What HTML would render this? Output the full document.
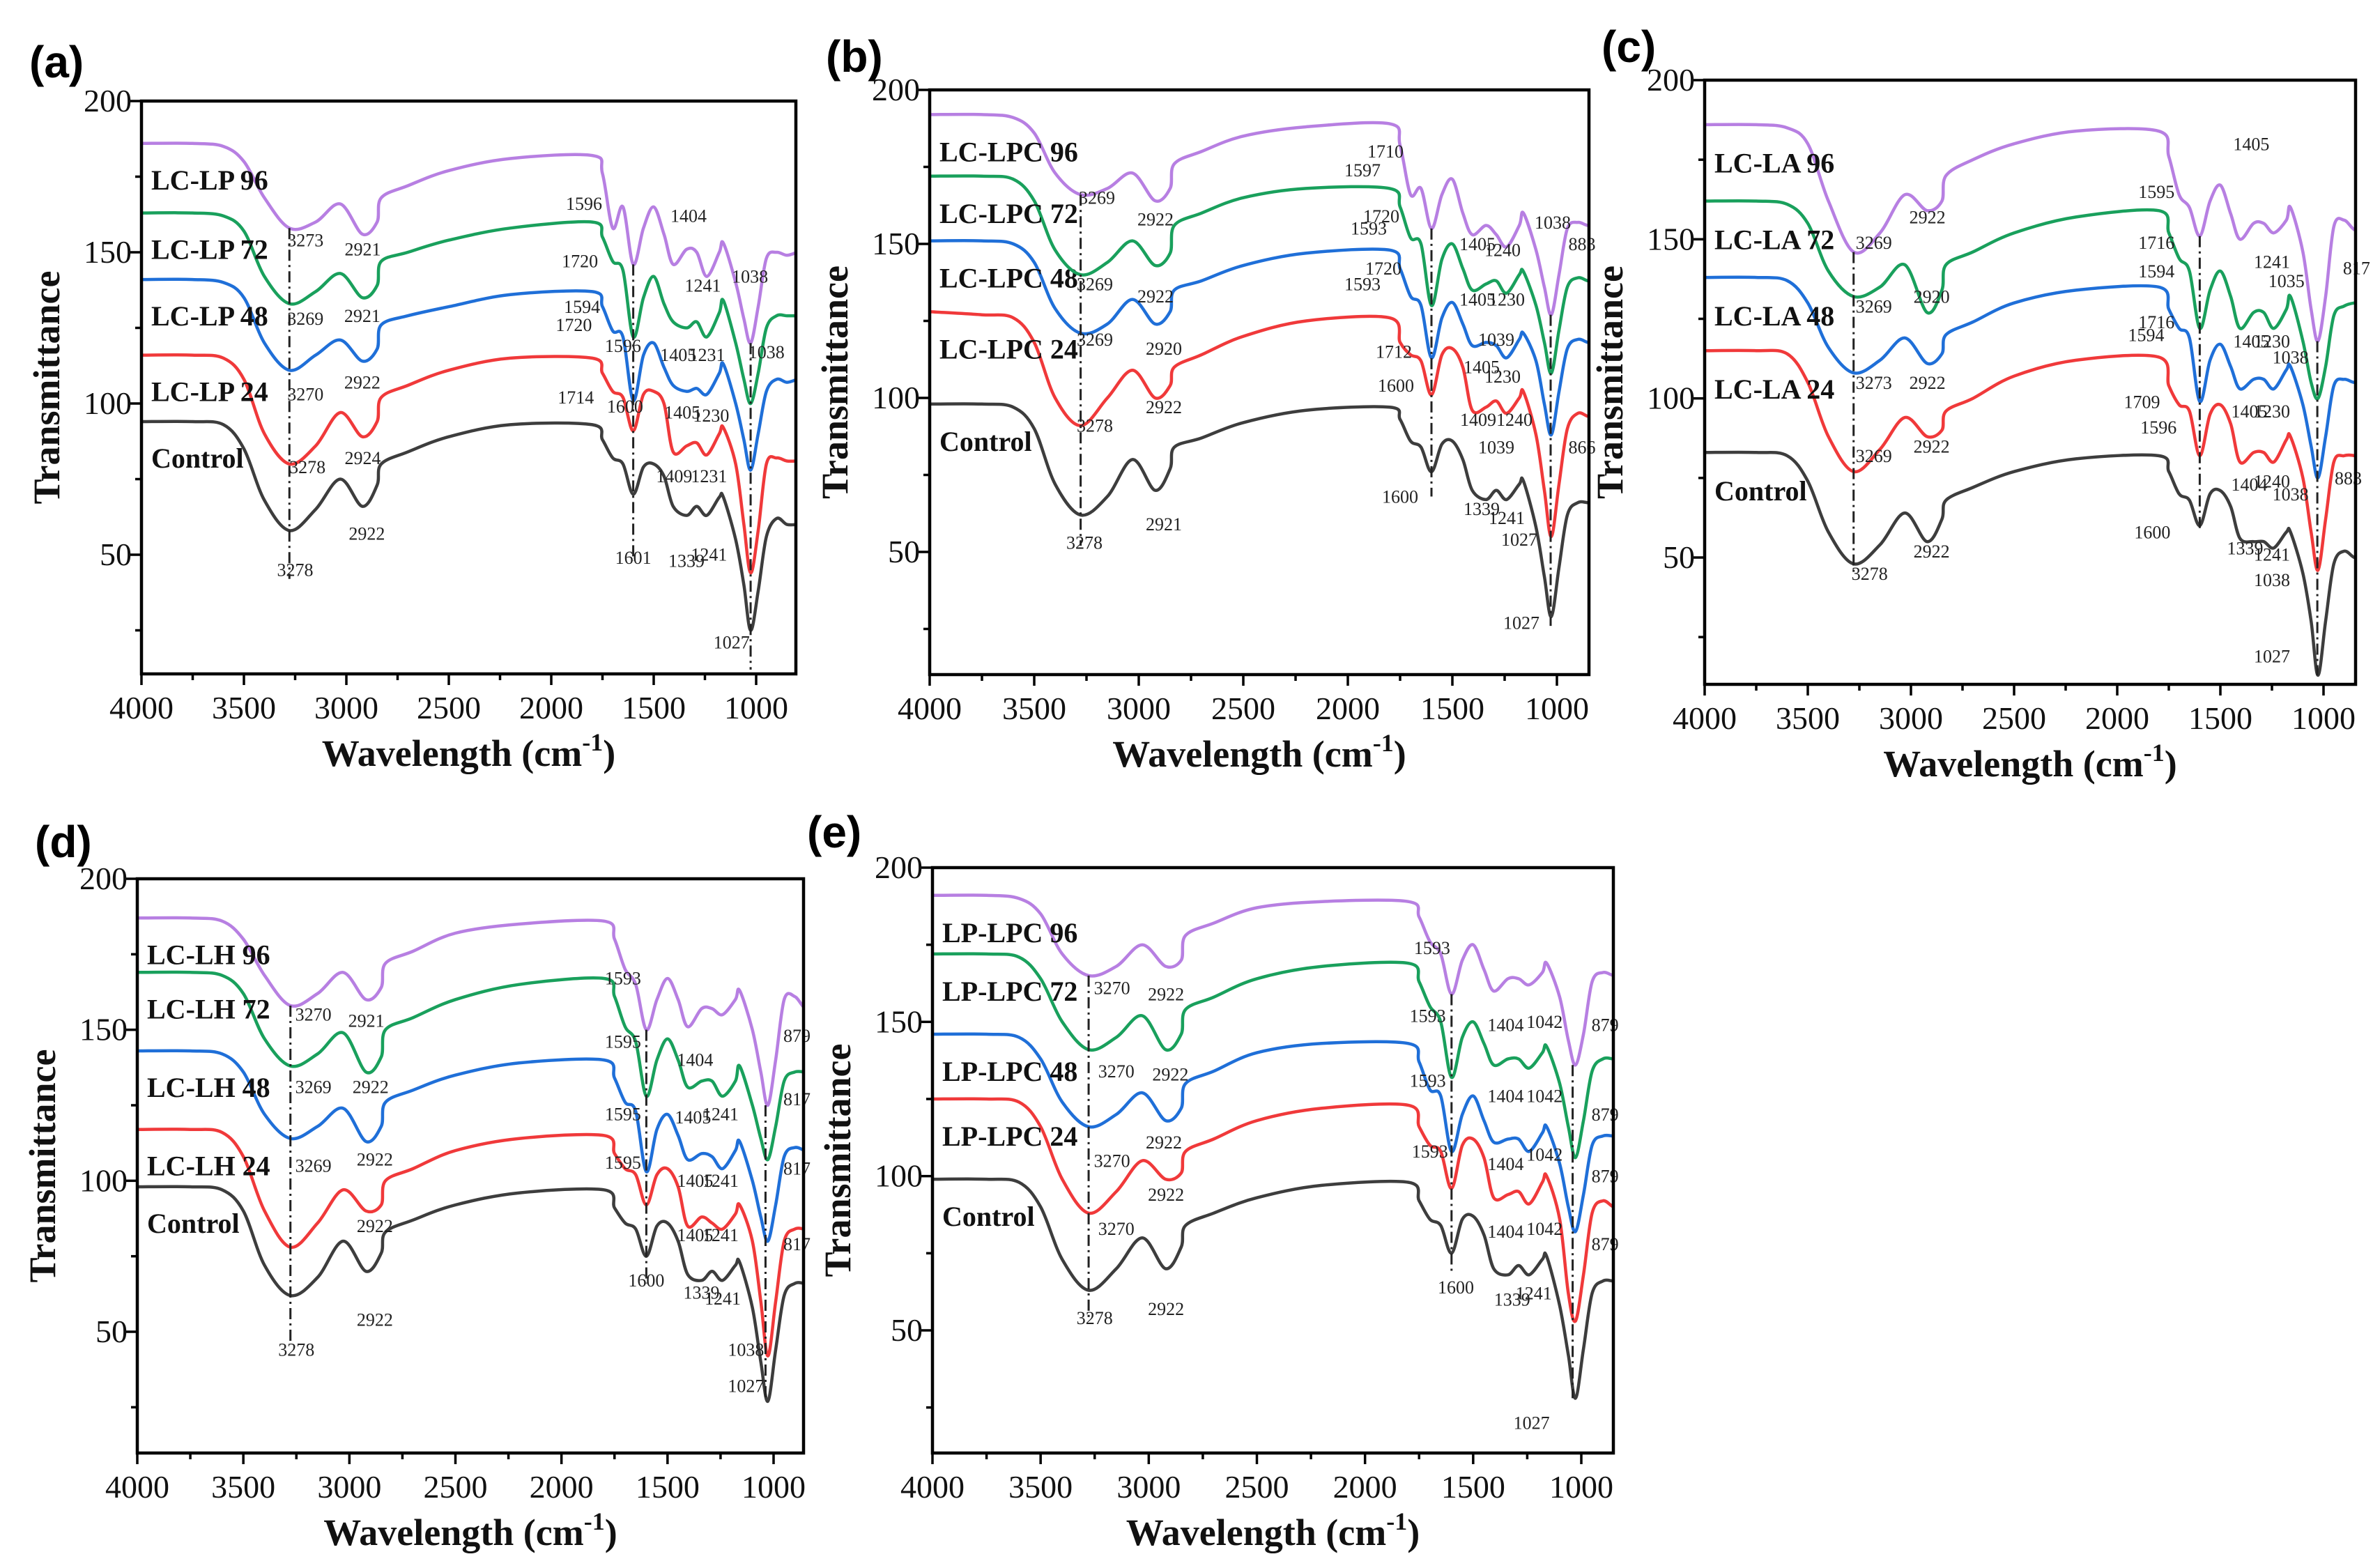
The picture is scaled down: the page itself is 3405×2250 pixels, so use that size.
<!DOCTYPE html>
<html><head><meta charset="utf-8"><style>
html,body{margin:0;padding:0;background:#fff}
svg{display:block}
</style></head><body>
<svg id="fig" xmlns="http://www.w3.org/2000/svg" width="3405" height="2250" viewBox="0 0 3405 2250"></svg>
<script>
// shared wavenumber grid
const wn = [4000,3750,3600,3500,3400,3278,3150,3030,2922,2850,2830,2700,2500,2200,1800,1750,1700,1650,1600,1550,1500,1450,1405,1339,1290,1241,1180,1160,1100,1060,1027,990,950,900,850,800];
const yTicks = [50,100,150,200];
const xTicks = [4000,3500,3000,2500,2000,1500,1000];
const colors = ['#3d3d3d','#f0393a','#1f6fd8','#19a05c','#b77fe2'];

// panel (a)
const aControl=[94,94,93,85,68,58,65,75,66,73,80,84,89,93,93,88,82,80,70,79,80,76,66,63,66,63,69,69,55,40,25,38,56,62,60,60];
const a24=[116,116,115,108,90,80,86,97,89,94,102,106,111,115,115,110,104,102,91,103,104,100,84,86,87,83,90,92,80,60,44,58,80,82,81,81];
const a48=[141,141,140,135,120,111,116,121,114,118,126,129,132,136,137,132,124,122,101,116,120,112,106,104,105,103,110,113,100,88,78,90,104,108,107,108];
const a72=[163,163,162,157,142,133,137,143,135,139,147,150,154,158,160,155,147,144,122,135,142,133,127,125,127,122,130,134,120,108,100,110,125,129,129,129];
const a96=[186,186,185,180,168,158,160,166,156,160,168,172,177,181,182,176,158,165,146,158,165,156,146,151,150,142,150,153,140,128,120,132,148,150,149,150];
const aNames=['Control','LC-LP 24','LC-LP 48','LC-LP 72','LC-LP 96'];
// panel (b)
const bControl=[98,98,97,90,72,62,68,80,70,77,84,87,92,96,97,93,86,84,76,85,86,80,70,67,70,67,72,73,58,42,29,45,62,66,66,66];
const b24=[128,127,126,118,100,91,100,109,100,104,110,114,120,125,126,118,114,112,101,114,116,110,96,97,99,95,100,102,88,70,55,72,90,95,94,94];
const b48=[151,151,150,144,129,121,124,132,124,128,135,138,143,147,148,142,133,130,113,126,131,124,117,118,117,113,119,121,112,98,88,102,116,119,118,118];
const b72=[172,172,171,164,148,140,144,151,143,147,156,160,165,168,168,162,152,150,130,145,150,142,135,137,138,134,140,141,130,118,108,122,136,139,138,138];
const b96=[192,192,191,186,173,166,168,173,164,168,176,180,185,188,189,182,166,168,155,166,171,160,153,156,153,149,156,160,148,136,127,140,155,157,156,157];
const bNames=['Control','LC-LPC 24','LC-LPC 48','LC-LPC 72','LC-LPC 96'];
// panel (c)
const cControl=[83,83,82,74,58,48,54,64,55,62,68,72,77,81,82,77,70,68,60,70,71,66,56,55,55,53,58,58,45,30,13,30,48,52,50,50];
const c24=[115,115,114,105,88,77,84,94,88,90,96,100,107,112,113,104,98,96,82,95,98,92,80,83,83,80,87,88,75,58,46,62,80,82,82,81];
const c48=[138,138,137,130,116,108,112,119,111,114,120,124,130,134,135,128,122,119,99,112,117,110,103,106,106,103,109,110,98,85,75,88,104,106,105,106];
const c72=[162,162,161,155,140,132,135,142,127,134,142,146,152,157,159,152,144,140,122,134,140,132,122,127,127,122,128,132,118,105,100,110,126,129,130,130];
const c96=[186,186,185,180,162,146,152,164,159,162,170,175,180,184,184,176,164,160,151,162,167,158,150,155,155,152,156,160,146,128,118,132,154,156,153,153];
const cNames=['Control','LC-LA 24','LC-LA 48','LC-LA 72','LC-LA 96'];
// panel (d)
const dControl=[98,98,97,90,72,62,68,80,70,76,83,87,92,96,97,91,86,84,75,85,86,80,69,67,70,67,72,73,58,40,27,44,62,66,66,66];
const d24=[117,117,116,108,90,78,86,97,90,92,100,104,110,114,115,109,104,102,92,102,104,98,85,88,86,84,89,92,80,60,42,60,80,84,84,84];
const d48=[143,143,142,136,122,114,118,124,113,118,126,130,135,139,140,134,126,123,103,117,122,115,107,109,108,104,110,113,100,88,80,92,108,111,110,110];
const d72=[169,169,168,162,147,138,142,149,136,141,150,154,160,165,167,161,151,146,128,140,147,140,131,133,133,128,133,138,125,114,107,118,133,136,136,136];
const d96=[187,187,186,180,168,158,162,169,160,164,172,176,182,185,186,180,170,165,150,160,167,160,151,157,157,155,160,163,150,136,125,140,160,161,157,157];
const dNames=['Control','LC-LH 24','LC-LH 48','LC-LH 72','LC-LH 96'];
// panel (e)
const eControl=[99,99,98,90,73,63,70,80,70,77,84,88,93,97,98,92,86,84,75,86,87,81,70,68,71,68,73,74,58,42,28,44,62,66,66,66];
const e24=[125,125,124,116,99,88,95,105,99,101,108,112,118,122,123,116,110,108,96,110,112,106,93,94,95,91,98,100,86,62,53,68,88,92,90,90];
const e48=[146,146,145,138,124,116,120,127,118,122,130,134,140,143,143,137,128,126,108,120,126,118,111,112,112,108,114,116,104,90,82,94,110,113,113,113];
const e72=[172,172,171,164,150,141,145,152,141,146,154,158,164,168,169,163,155,150,132,145,150,143,136,138,138,135,140,142,130,116,106,118,134,138,138,138];
const e96=[191,191,190,185,172,165,168,175,168,170,178,182,187,189,189,184,176,172,159,170,175,167,160,164,164,162,166,169,158,144,136,146,163,166,165,165];
const eNames=['Control','LP-LPC 24','LP-LPC 48','LP-LPC 72','LP-LPC 96'];

const aNotes=[['3273',3200,152],['2921',2920,149],['3269',3200,126],['2921',2922,127],['3270',3200,101],['2922',2922,105],['3278',3190,77],['2924',2920,80],['2922',2900,55],['3278',3250,43],['1596',1840,164],['1404',1330,160],['1720',1860,145],['1241',1260,137],['1038',1030,140],['1594',1850,130],['1720',1890,124],['1596',1650,117],['1405',1380,114],['1231',1240,114],['1038',950,115],['1714',1880,100],['1600',1640,97],['1405',1360,95],['1230',1220,94],['1409',1400,74],['1231',1230,74],['1601',1600,47],['1339',1340,46],['1241',1230,48],['1027',1120,19]];
const bNotes=[['3269',3200,163],['2922',2920,156],['3269',3210,135],['2922',2920,131],['3269',3210,117],['2920',2880,114],['3278',3210,89],['2922',2880,95],['2921',2880,57],['3278',3260,51],['1710',1820,178],['1597',1930,172],['1720',1840,157],['1593',1900,153],['1720',1830,140],['1593',1930,135],['1712',1780,113],['1600',1770,102],['1600',1750,66],['1405',1380,148],['1240',1260,146],['1038',1020,155],['883',880,148],['1405',1380,130],['1230',1240,130],['1039',1290,117],['1405',1360,108],['1230',1260,105],['14091240',1290,91],['1039',1290,82],['866',880,82],['1339',1360,62],['1241',1240,59],['1027',1180,52],['1027',1170,25]];
const cNotes=[['3269',3180,147],['2922',2920,155],['3269',3180,127],['2920',2900,130],['3273',3180,103],['2922',2920,103],['3269',3180,80],['2922',2900,83],['3278',3200,43],['2922',2900,50],['1405',1350,178],['1595',1810,163],['1716',1810,147],['1241',1250,141],['817',840,139],['1594',1810,138],['1035',1180,135],['1716',1810,122],['1405',1350,116],['1230',1250,116],['1594',1860,118],['1038',1160,111],['1709',1880,97],['1405',1360,94],['1230',1250,94],['1596',1800,89],['1404',1360,71],['1240',1250,72],['883',880,73],['1038',1160,68],['1600',1830,56],['1339',1380,51],['1241',1250,49],['1038',1250,41],['1027',1250,17]];
const dNotes=[['3270',3170,153],['2921',2920,151],['3269',3170,129],['2922',2900,129],['3269',3170,103],['2922',2880,105],['2922',2880,83],['2922',2880,52],['3278',3250,42],['1593',1710,165],['1595',1710,144],['1595',1710,120],['1595',1710,104],['1404',1370,138],['879',890,146],['1405',1380,119],['1241',1250,120],['817',890,125],['1405',1370,98],['1241',1250,98],['817',890,102],['1405',1370,80],['1241',1250,80],['817',890,77],['1600',1600,65],['1339',1340,61],['1241',1240,59],['1038',1130,42],['1027',1130,30]];
const eNotes=[['3270',3170,159],['2922',2920,157],['3270',3150,132],['2922',2900,131],['2922',2930,109],['3270',3170,103],['2922',2920,92],['3270',3150,81],['3278',3250,52],['2922',2920,55],['1593',1690,172],['1593',1710,150],['1593',1710,129],['1593',1700,106],['1600',1580,62],['1404',1350,147],['1042',1170,148],['879',890,147],['1404',1350,124],['1042',1170,124],['879',890,118],['1404',1350,102],['1042',1170,105],['879',890,98],['1404',1350,80],['1042',1170,81],['879',890,76],['1339',1320,58],['1241',1220,60],['1027',1230,18]];

const aGuides=[[3278,158,42],[1600,146,48],[1027,120,12]];
const bGuides=[[3278,166,52],[1600,155,68],[1030,127,26]];
const cGuides=[[3278,146,45],[1600,151,58],[1030,118,13]];
const dGuides=[[3278,158,46],[1600,150,66],[1038,125,28]];
const eGuides=[[3278,165,54],[1600,159,68],[1040,136,28]];

const panels=[
 {id:'a',letter:'(a)',lx:42,ly:111,L:203,R:1142,T:145,B:967,x4:203,x1:1085,y200:145,y50:796,series:[aControl,a24,a48,a72,a96],names:aNames,notes:aNotes,guides:aGuides},
 {id:'b',letter:'(b)',lx:1185,ly:103,L:1334,R:2280,T:129,B:968,x4:1334,x1:2234,y200:129,y50:792,series:[bControl,b24,b48,b72,b96],names:bNames,notes:bNotes,guides:bGuides},
 {id:'c',letter:'(c)',lx:2298,ly:89,L:2446,R:3380,T:115,B:982,x4:2446,x1:3334,y200:115,y50:800,series:[cControl,c24,c48,c72,c96],names:cNames,notes:cNotes,guides:cGuides},
 {id:'d',letter:'(d)',lx:50,ly:1230,L:197,R:1153,T:1261,B:2085,x4:197,x1:1110,y200:1261,y50:1911,series:[dControl,d24,d48,d72,d96],names:dNames,notes:dNotes,guides:dGuides},
 {id:'e',letter:'(e)',lx:1158,ly:1216,L:1338,R:2315,T:1245,B:2085,x4:1338,x1:2269,y200:1245,y50:1909,series:[eControl,e24,e48,e72,e96],names:eNames,notes:eNotes,guides:eGuides}
];

const NS='http://www.w3.org/2000/svg';
const svg=document.getElementById('fig');
function mk(tag,attrs,parent){const e=document.createElementNS(NS,tag);for(const k in attrs)e.setAttribute(k,attrs[k]);(parent||svg).appendChild(e);return e;}
const serif='"Liberation Serif", serif';

panels.forEach(p=>{
  const X=w=>p.x4+(4000-w)*(p.x1-p.x4)/3000;
  const Y=v=>p.y200+(200-v)*(p.y50-p.y200)/150;
  const g=mk('g',{});
  
  
  const clip=mk('clipPath',{id:'clip-'+p.id},g);
  mk('rect',{x:p.L,y:p.T,width:p.R-p.L,height:p.B-p.T},clip);

  const lt=mk('text',{x:p.lx,y:p.ly,'font-family':'"Liberation Sans", sans-serif','font-weight':'bold','font-size':64,fill:'#000'},g);
  lt.textContent=p.letter;
  
  

  p.series.forEach((vals,si)=>{
    const pts=wn.map((w,i)=>[X(w),Y(vals[i])]);
    let d='M'+pts[0][0].toFixed(1)+','+pts[0][1].toFixed(1);
    for(let i=0;i<pts.length-1;i++){
      const p0=pts[Math.max(0,i-1)],p1=pts[i],p2=pts[i+1],p3=pts[Math.min(pts.length-1,i+2)];
      const c1=[p1[0]+(p2[0]-p0[0])/6,p1[1]+(p2[1]-p0[1])/6];
      const c2=[p2[0]-(p3[0]-p1[0])/6,p2[1]-(p3[1]-p1[1])/6];
      d+=' C'+c1[0].toFixed(1)+','+c1[1].toFixed(1)+' '+c2[0].toFixed(1)+','+c2[1].toFixed(1)+' '+p2[0].toFixed(1)+','+p2[1].toFixed(1);
    }
    const path=mk('path',{d:d,fill:'none',stroke:colors[si],'stroke-width':4.5,'stroke-linejoin':'round','clip-path':'url(#clip-'+p.id+')'},g);
    
    
    const lab=mk('text',{x:p.L+14,y:Y(vals[0]-12)+14,'font-family':serif,'font-weight':'bold','font-size':40,fill:'#111'},g);
    lab.textContent=p.names[si];
    
    
  });

  p.guides.forEach(gd=>{
    const ln=mk('line',{x1:X(gd[0]),x2:X(gd[0]),y1:Y(gd[1]),y2:Y(gd[2]),stroke:'#222','stroke-width':3,'stroke-dasharray':'16,6,3,6'},g);
    
    
  });
  p.notes.forEach(n=>{
    const t=mk('text',{x:X(n[1]),y:Y(n[2]),'font-family':serif,'font-size':26,fill:'#222','text-anchor':'middle'},g);
    t.textContent=n[0];
    
    
  });

  const fr=mk('rect',{x:p.L,y:p.T,width:p.R-p.L,height:p.B-p.T,fill:'none',stroke:'#000','stroke-width':4.5},g);
  
  

  for(let w=4000;w>=900;w-=250){
    const major=(w%500===0);
    mk('line',{x1:X(w),x2:X(w),y1:p.B,y2:p.B+(major?16:9),stroke:'#000','stroke-width':3.5},g);
  }
  xTicks.forEach(w=>{
    const t=mk('text',{x:X(w),y:p.B+64,'font-family':serif,'font-size':46,fill:'#111','text-anchor':'middle'},g);
    t.textContent=w;
    
    
  });
  for(let v=25;v<=200;v+=25){
    const major=(v%50===0);
    mk('line',{x1:p.L-(major?16:9),x2:p.L,y1:Y(v),y2:Y(v),stroke:'#000','stroke-width':3.5},g);
  }
  yTicks.forEach(v=>{
    const t=mk('text',{x:p.L-14,y:Y(v)+15,'font-family':serif,'font-size':46,fill:'#111','text-anchor':'end'},g);
    t.textContent=v;
    
    
  });
  const xt=mk('text',{x:(p.L+p.R)/2,y:p.B+132,'font-family':serif,'font-weight':'bold','font-size':54,fill:'#111','text-anchor':'middle'},g);
  xt.innerHTML='Wavelength (cm<tspan dy="-22" font-size="36">-1</tspan><tspan dy="22">)</tspan>';
  
  
  const yx=p.L-118, yy=(p.T+p.B)/2;
  const ytl=mk('text',{x:yx,y:yy,'font-family':serif,'font-weight':'bold','font-size':54,fill:'#111','text-anchor':'middle',transform:'rotate(-90 '+yx+' '+yy+')'},g);
  ytl.textContent='Transmittance';
  
  
});
</script>
</body></html>
